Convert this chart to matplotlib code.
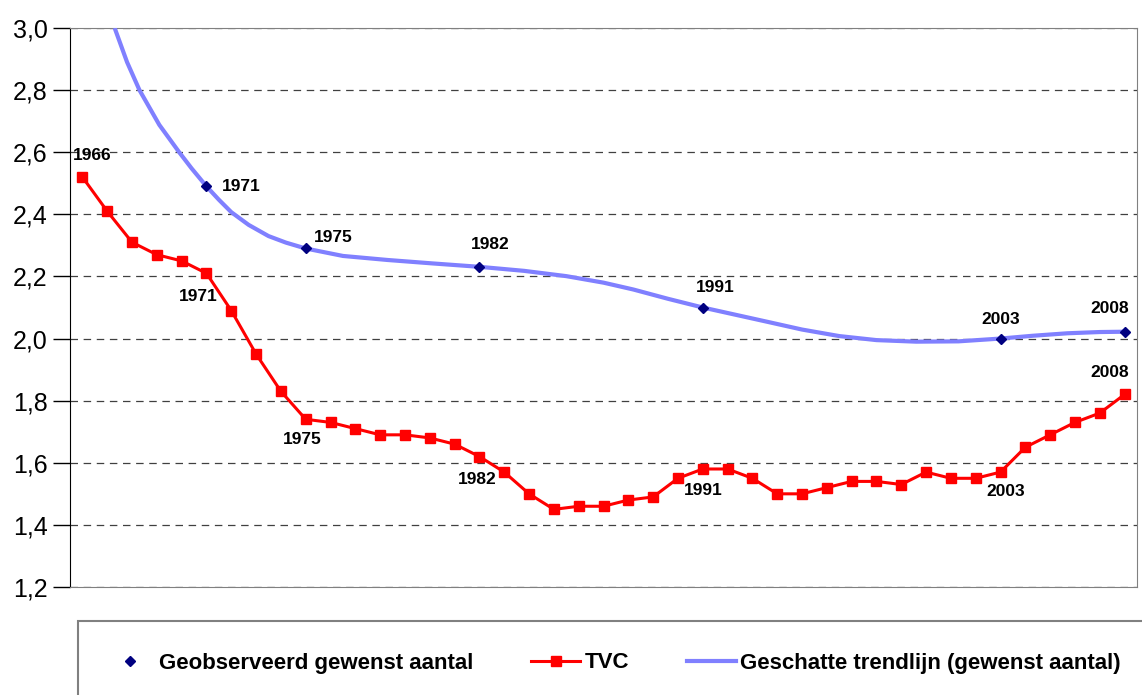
import matplotlib
matplotlib.use("Agg")
import matplotlib.pyplot as plt
from matplotlib.lines import Line2D
from matplotlib.patches import Rectangle

plt.rcParams['font.family'] = ['Liberation Sans', 'DejaVu Sans']

# TVC per year
tvc_years = list(range(1966, 2009))
tvc_values = [2.52, 2.41, 2.31, 2.27, 2.25, 2.21, 2.09, 1.95, 1.83, 1.74,
              1.73, 1.71, 1.69, 1.69, 1.68, 1.66, 1.62, 1.57, 1.50, 1.45,
              1.46, 1.46, 1.48, 1.49, 1.55, 1.58, 1.58, 1.55, 1.50, 1.50,
              1.52, 1.54, 1.54, 1.53, 1.57, 1.55, 1.55, 1.57, 1.65, 1.69,
              1.73, 1.76, 1.82]
tvc_labeled = [1966, 1971, 1975, 1982, 1991, 2003, 2008]

# observed desired number of children
obs_years = [1971, 1975, 1982, 1991, 2003, 2008]
obs_values = [2.49, 2.29, 2.23, 2.10, 2.00, 2.02]

# estimated trend line
trend_years = [1967.3, 1967.8, 1968.3, 1969.1, 1969.9, 1970.4, 1971.0, 1971.5,
               1972.0, 1972.7, 1973.5, 1974.2, 1975.0, 1976.5, 1978.3, 1980.1,
               1982.0, 1983.8, 1985.5, 1987.0, 1988.2, 1989.6, 1991.0, 1992.3,
               1993.6, 1995.0, 1996.5, 1998.0, 1999.6, 2001.3, 2003.0, 2004.3,
               2005.7, 2007.0, 2008.0]
trend_values = [3.00, 2.89, 2.80, 2.688, 2.60, 2.548, 2.49, 2.447,
                2.407, 2.366, 2.33, 2.309, 2.29, 2.266, 2.253, 2.242,
                2.231, 2.218, 2.201, 2.180, 2.158, 2.128, 2.10, 2.077,
                2.054, 2.029, 2.008, 1.995, 1.99, 1.991, 2.00, 2.009,
                2.017, 2.021, 2.022]

y_ticks = [1.2, 1.4, 1.6, 1.8, 2.0, 2.2, 2.4, 2.6, 2.8, 3.0]
y_tick_labels = ['1,2', '1,4', '1,6', '1,8', '2,0', '2,2', '2,4', '2,6', '2,8', '3,0']

RED = '#FF0000'
TREND = '#8080FF'
NAVY = '#000080'

fig = plt.figure(figsize=(11.42, 6.95), dpi=100)
ax = fig.add_axes([70 / 1142, 1 - 587 / 695, 1067 / 1142, 559 / 695])

ax.plot(trend_years, trend_values, color=TREND, lw=3, zorder=3,
        solid_capstyle='butt', solid_joinstyle='round')
ax.plot(obs_years, obs_values, ls='none', marker='D', ms=5.5, color=NAVY, zorder=4)
ax.plot(tvc_years, tvc_values, color=RED, lw=2.2, marker='s', ms=6.5, zorder=5)

ax.set_xlim(1965.5, 2008.5)
ax.set_ylim(1.2, 3.0)
ax.set_yticks(y_ticks)
ax.set_yticklabels(y_tick_labels, fontsize=18)
ax.set_xticks([])
ax.tick_params(axis='y', direction='out', length=12, width=1, pad=4)
ax.yaxis.grid(True, color='#404040', lw=0.9, linestyle=(0, (6, 4.5)))
ax.set_axisbelow(True)
for side in ['top', 'right', 'bottom']:
    ax.spines[side].set_color('#808080')
ax.spines['left'].set_color('black')

# labels on TVC points (pixel offsets)
tvc_offsets = {1966: (10, 22), 1971: (-8, -23), 1975: (-3, -20), 1982: (-2, -23),
               1991: (0, -22), 2003: (5, -19), 2008: (-15, 22)}
for yr in tvc_labeled:
    v = tvc_values[tvc_years.index(yr)]
    ax.annotate(str(yr), (yr, v), xytext=tvc_offsets[yr], textcoords='offset pixels',
                ha='center', va='center', fontsize=12.5, fontweight='bold')

obs_offsets = {1971: (35, 0), 1975: (28, 11), 1982: (11, 23), 1991: (12, 20),
               2003: (0, 19), 2008: (-15, 24)}
for yr, v in zip(obs_years, obs_values):
    ax.annotate(str(yr), (yr, v), xytext=obs_offsets[yr], textcoords='offset pixels',
                ha='center', va='center', fontsize=12.5, fontweight='bold')

# legend box running off the figure edge
fig.patches.append(Rectangle((78 / 1142, -0.1), 1.0, (695 - 621) / 695 + 0.1,
                             transform=fig.transFigure, fill=False,
                             edgecolor='#808080', lw=1.5))
handles = [
    Line2D([], [], ls='none', marker='D', ms=5.5, color=NAVY),
    Line2D([], [], color=RED, lw=2.2, marker='s', ms=6.5),
    Line2D([], [], color=TREND, lw=3),
]
labels = ['Geobserveerd gewenst aantal', 'TVC', 'Geschatte trendlijn (gewenst aantal)']
fig.legend(handles, labels, loc='center left', bbox_to_anchor=(106 / 1142, 1 - 663 / 695),
           ncol=3, frameon=False, borderpad=0, borderaxespad=0, handlelength=2.2,
           handletextpad=0.2, columnspacing=2.6, markerscale=1.0,
           prop={'weight': 'bold', 'size': 16})

fig.savefig('out.png', dpi=100)
